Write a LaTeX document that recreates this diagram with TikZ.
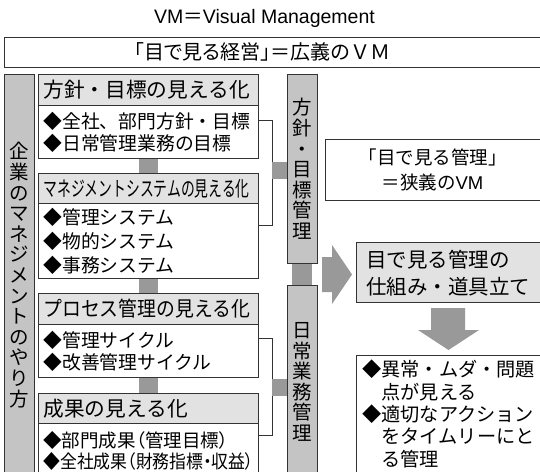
\documentclass[tikz,border=0pt]{standalone}
\usepackage{fontspec}
\setmainfont{Noto Sans CJK JP}
\newfontfamily\paltjp[RawFeature=+palt]{Noto Sans CJK JP}
\newfontfamily\latfont{Liberation Sans}
\usetikzlibrary{calc}
\definecolor{colgray}{HTML}{C4C4C4}
\definecolor{hdrgray}{HTML}{E2E2E2}
\definecolor{bargray}{HTML}{999999}
\definecolor{edge}{HTML}{333333}
\newcommand\hdrfont{\fontsize{20.7}{24}\selectfont}
\newcommand\vfont{\fontsize{19.5}{20.6}\selectfont}
\begin{document}
\begin{tikzpicture}[x=1pt,y=-1pt,
  box/.style={draw=edge, line width=0.9pt, anchor=north west, inner sep=0pt, inner xsep=5pt,
              text width=210pt, minimum width=220pt, align=left},
  hdr/.style={box, fill=hdrgray, minimum height=31pt, font=\hdrfont},
  body/.style={box, fill=white},
  col/.style={draw=edge, line width=0.9pt, fill=colgray, anchor=north west, inner sep=0pt, minimum width=30pt},
  vtxt/.style={align=center, inner sep=0pt, font=\vfont},
  brk/.style={draw=edge, line width=0.7pt},
  bar/.style={fill=bargray},
  plain/.style={inner sep=0pt}]
\useasboundingbox (0,0) rectangle (540,471);
\clip (0,0) rectangle (540,471);
\fill[white] (0,0) rectangle (540,471);

% title
\node[plain, font=\fontsize{19.5}{22}\selectfont] (title) at (264.5,18) {{\latfont VM}＝{\latfont Visual Management}};
\node[draw=edge, line width=0.9pt, anchor=north west, minimum width=545pt, minimum height=30pt, inner sep=0pt] (top) at (4,37) {};
\node[plain, font=\fontsize{20}{22}\selectfont] (toptxt) at (262.5,52) {{\paltjp 「目で見る経営」}＝広義のＶＭ};

% left column
\node[col, minimum height=420pt] (lc) at (4,74) {};
\node[vtxt] (lctxt) at (19,275) {企\\業\\の\\マ\\ネ\\ジ\\メ\\ン\\ト\\の\\や\\り\\方};

% four boxes
\node[hdr] (h1) at (38,74) {方針・目標の見える化};
\node[body, minimum height=53pt, font=\fontsize{18.8}{22}\selectfont] (b1) at (38,105) {◆全社、部門方針・目標\\◆日常管理業務の目標};
\node[hdr] (h2) at (38,173) {\scalebox{0.667}[1]{マネジメントシステムの見える化}};
\node[body, minimum height=75pt, font=\fontsize{18.8}{24}\selectfont] (b2) at (38,203) {◆管理システム\\◆物的システム\\◆事務システム};
\node[hdr] (h3) at (38,293) {\scalebox{0.91}[1]{プロセス管理の見える化}};
\node[body, minimum height=53pt, font=\fontsize{18.8}{22}\selectfont] (b3) at (38,324) {◆管理サイクル\\◆改善管理サイクル};
\node[hdr] (h4) at (38,393) {成果の見える化};
\node[body, minimum height=55pt, font=\fontsize{18.5}{20.5}\selectfont] (b4) at (38,423) {{\paltjp ◆部門成果（管理目標）}\\\scalebox{0.91}[1]{\paltjp ◆全社成果（財務指標・収益）}};

% bars between boxes
\fill[bar] ($(b1.south)+(-9.5,0.45)$) rectangle ($(h2.north)+(9.5,-0.45)$);
\fill[bar] ($(b2.south)+(-9.5,0.45)$) rectangle ($(h3.north)+(9.5,-0.45)$);
\fill[bar] ($(b3.south)+(-9.5,0.45)$) rectangle ($(h4.north)+(9.5,-0.45)$);

% middle columns
\node[col, minimum height=189pt] (c2) at (287,74) {};
\node[vtxt] (c2txt) at (302,169) {方\\針\\・\\目\\標\\管\\理};
\node[col, minimum height=200pt] (c3) at (287,285) {};
\node[vtxt] (c3txt) at (302,382) {日\\常\\業\\務\\管\\理};
\fill[bar] ($(c2.south)+(-10,0.45)$) rectangle ($(c3.north)+(10,-0.45)$);

% brackets
\draw[brk] (b1.east |- 0,120) -- (272,120) -- (272,225) -- (b2.east |- 0,225);
\draw[brk] (b3.east |- 0,338) -- (272,338) -- (272,435) -- (b4.east |- 0,435);
\fill[bar] (272,162) rectangle ($(c2.west |- 0,179)+(-0.45,0)$);
\fill[bar] (272,379) rectangle ($(c3.west |- 0,396)+(-0.45,0)$);

% narrow VM box
\node[draw=edge, line width=0.9pt, anchor=north west, minimum width=220pt, minimum height=61pt, inner sep=0pt] (nvm) at (325,139) {};
\node[plain, align=center, font=\fontsize{18.5}{25}\selectfont] (nvmtxt) at (432.5,169.5) {「目で見る管理」\\＝狭義の{\latfont VM}};

% right arrow
\fill[bar] (322,257) -- (332,257) -- (332,245) -- (352,274.5) -- (332,304) -- (332,292) -- (322,292) -- cycle;

% mechanism box
\node[draw=edge, line width=0.9pt, fill=hdrgray, anchor=north west, minimum width=200pt, minimum height=60pt, inner sep=0pt] (mech) at (356,242) {};
\node[plain, align=left, anchor=west, font=\fontsize{20.5}{27}\selectfont] (mechtxt) at (366,273.5) {目で見る管理の\\仕組み・道具立て};

% down arrow
\fill[bar] (431,308) -- (465,308) -- (465,330) -- (479,330) -- (448.5,350) -- (418,330) -- (431,330) -- cycle;

% result box
\node[draw=edge, line width=0.9pt, fill=white, anchor=north west, minimum width=200pt, minimum height=130pt, inner sep=0pt] (res) at (356,355) {};
\node[plain, align=left, anchor=west, font=\fontsize{19.2}{22.3}\selectfont] (restxt) at (362,414) {◆異常・ムダ・問題\\\hspace*{1em}点が見える\\◆適切なアクション\\\hspace*{1em}をタイムリーにと\\\hspace*{1em}る管理};
\end{tikzpicture}
\end{document}
